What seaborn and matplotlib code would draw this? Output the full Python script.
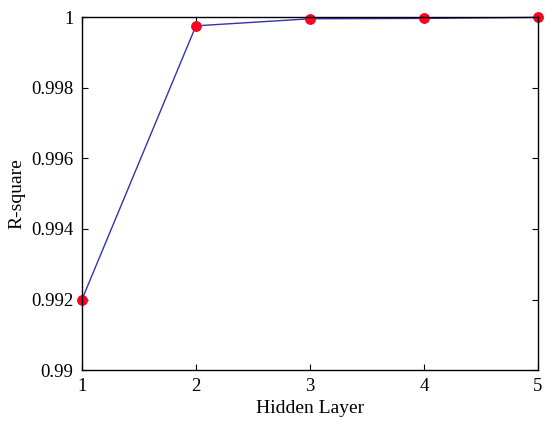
import matplotlib
matplotlib.use("Agg")
import matplotlib.pyplot as plt
import seaborn as sns
import pandas as pd

hidden_layers = [1, 2, 3, 4, 5]
r_square = [0.9920, 0.99975, 0.99995, 0.99996, 0.99999]

df = pd.DataFrame({"Hidden Layer": hidden_layers, "R-square": r_square})

sns.set_style("ticks")
plt.rcParams["font.family"] = ["Liberation Serif", "DejaVu Serif"]
plt.rcParams["text.color"] = "black"
plt.rcParams["axes.labelcolor"] = "black"
plt.rcParams["xtick.color"] = "black"
plt.rcParams["ytick.color"] = "black"

fig = plt.figure(figsize=(5.5, 4.36), dpi=100)
ax = fig.add_axes([0.149, 0.151, 0.829, 0.810])

sns.lineplot(data=df, x="Hidden Layer", y="R-square", ax=ax,
             color="#3333aa", linewidth=1.0,
             marker="o", markersize=7, markerfacecolor="#ff0022",
             markeredgecolor="#ff0022")

ax.set_xlim(1, 5)
ax.set_ylim(0.99, 1.0)
ax.set_xticks(hidden_layers)
ax.set_yticks([0.99, 0.992, 0.994, 0.996, 0.998, 1.0])
ax.set_yticklabels(["0.99", "0.992", "0.994", "0.996", "0.998", "1"])
ax.tick_params(direction="in", length=4, labelsize=13.5, top=True, right=True, pad=6)
for s in ax.spines.values():
    s.set_visible(True)
    s.set_linewidth(1.0)
    s.set_color("black")
ax.set_xlabel("Hidden Layer", fontsize=14, labelpad=3)
ax.set_ylabel("R-square", fontsize=14, labelpad=4)
for line in ax.lines:
    line.set_clip_on(False)

fig.savefig("out.png", dpi=100)
